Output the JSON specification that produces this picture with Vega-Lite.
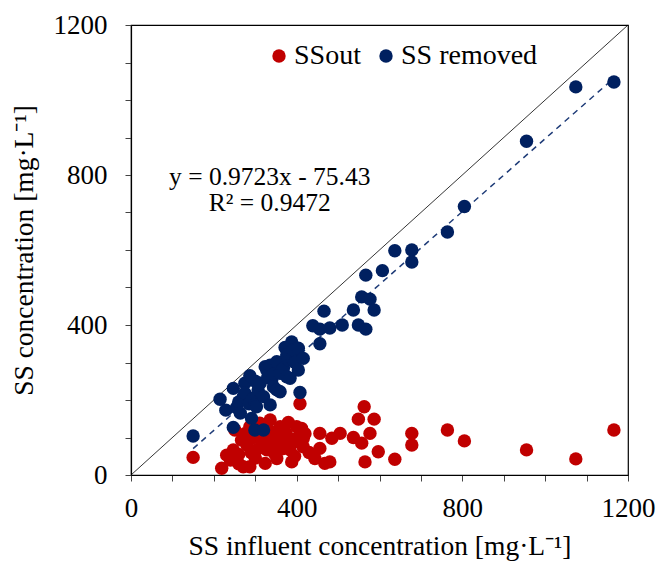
{
  "$schema": "https://vega.github.io/schema/vega-lite/v6.json",
  "width": 497,
  "height": 450,
  "autosize": {"type": "none"},
  "padding": {"left": 131, "top": 25, "right": 28, "bottom": 86},
  "background": "white",
  "config": {
    "font": "Liberation Serif",
    "view": {"stroke": "black", "strokeWidth": 1.2},
    "axis": {
      "grid": false,
      "domainColor": "black",
      "domainWidth": 1.2,
      "tickColor": "#444",
      "tickSize": 6,
      "labelFont": "Liberation Serif",
      "labelFontSize": 27,
      "labelColor": "black",
      "titleFont": "Liberation Serif",
      "titleFontSize": 27.5,
      "titleFontWeight": "normal",
      "titleColor": "black"
    }
  },
  "datasets": {
    "points": [
      {"series": "SSout", "influent": 150, "conc": 47},
      {"series": "SSout", "influent": 219, "conc": 18},
      {"series": "SSout", "influent": 231, "conc": 53},
      {"series": "SSout", "influent": 240, "conc": 40},
      {"series": "SSout", "influent": 247, "conc": 67},
      {"series": "SSout", "influent": 251, "conc": 120},
      {"series": "SSout", "influent": 260, "conc": 55},
      {"series": "SSout", "influent": 260, "conc": 30},
      {"series": "SSout", "influent": 267, "conc": 93},
      {"series": "SSout", "influent": 271, "conc": 22},
      {"series": "SSout", "influent": 275, "conc": 110},
      {"series": "SSout", "influent": 280, "conc": 80},
      {"series": "SSout", "influent": 287, "conc": 129},
      {"series": "SSout", "influent": 287, "conc": 22},
      {"series": "SSout", "influent": 290, "conc": 60},
      {"series": "SSout", "influent": 295, "conc": 100},
      {"series": "SSout", "influent": 300, "conc": 45},
      {"series": "SSout", "influent": 303, "conc": 67},
      {"series": "SSout", "influent": 310, "conc": 110},
      {"series": "SSout", "influent": 311, "conc": 138},
      {"series": "SSout", "influent": 315, "conc": 80},
      {"series": "SSout", "influent": 324, "conc": 31},
      {"series": "SSout", "influent": 328, "conc": 93},
      {"series": "SSout", "influent": 328, "conc": 67},
      {"series": "SSout", "influent": 328, "conc": 102},
      {"series": "SSout", "influent": 336, "conc": 147},
      {"series": "SSout", "influent": 340, "conc": 85},
      {"series": "SSout", "influent": 340, "conc": 115},
      {"series": "SSout", "influent": 345, "conc": 60},
      {"series": "SSout", "influent": 350, "conc": 85},
      {"series": "SSout", "influent": 352, "conc": 44},
      {"series": "SSout", "influent": 356, "conc": 116},
      {"series": "SSout", "influent": 360, "conc": 129},
      {"series": "SSout", "influent": 365, "conc": 70},
      {"series": "SSout", "influent": 368, "conc": 98},
      {"series": "SSout", "influent": 375, "conc": 110},
      {"series": "SSout", "influent": 380, "conc": 140},
      {"series": "SSout", "influent": 384, "conc": 67},
      {"series": "SSout", "influent": 388, "conc": 35},
      {"series": "SSout", "influent": 390, "conc": 85},
      {"series": "SSout", "influent": 395, "conc": 50},
      {"series": "SSout", "influent": 400, "conc": 129},
      {"series": "SSout", "influent": 400, "conc": 98},
      {"series": "SSout", "influent": 408, "conc": 190},
      {"series": "SSout", "influent": 412, "conc": 124},
      {"series": "SSout", "influent": 416, "conc": 75},
      {"series": "SSout", "influent": 416, "conc": 98},
      {"series": "SSout", "influent": 420, "conc": 110},
      {"series": "SSout", "influent": 430, "conc": 60},
      {"series": "SSout", "influent": 444, "conc": 44},
      {"series": "SSout", "influent": 456, "conc": 111},
      {"series": "SSout", "influent": 456, "conc": 71},
      {"series": "SSout", "influent": 468, "conc": 31},
      {"series": "SSout", "influent": 480, "conc": 35},
      {"series": "SSout", "influent": 485, "conc": 98},
      {"series": "SSout", "influent": 505, "conc": 111},
      {"series": "SSout", "influent": 537, "conc": 100},
      {"series": "SSout", "influent": 549, "conc": 149},
      {"series": "SSout", "influent": 557, "conc": 85},
      {"series": "SSout", "influent": 565, "conc": 35},
      {"series": "SSout", "influent": 563, "conc": 182},
      {"series": "SSout", "influent": 577, "conc": 111},
      {"series": "SSout", "influent": 587, "conc": 149},
      {"series": "SSout", "influent": 597, "conc": 62},
      {"series": "SSout", "influent": 637, "conc": 42},
      {"series": "SSout", "influent": 678, "conc": 80},
      {"series": "SSout", "influent": 678, "conc": 111},
      {"series": "SSout", "influent": 764, "conc": 120},
      {"series": "SSout", "influent": 805, "conc": 91},
      {"series": "SSout", "influent": 955, "conc": 67},
      {"series": "SSout", "influent": 1074, "conc": 43},
      {"series": "SSout", "influent": 1166, "conc": 120},

      {"series": "SS removed", "influent": 150, "conc": 104},
      {"series": "SS removed", "influent": 215, "conc": 202},
      {"series": "SS removed", "influent": 229, "conc": 173},
      {"series": "SS removed", "influent": 247, "conc": 231},
      {"series": "SS removed", "influent": 247, "conc": 127},
      {"series": "SS removed", "influent": 255, "conc": 180},
      {"series": "SS removed", "influent": 260, "conc": 195},
      {"series": "SS removed", "influent": 264, "conc": 165},
      {"series": "SS removed", "influent": 271, "conc": 209},
      {"series": "SS removed", "influent": 275, "conc": 245},
      {"series": "SS removed", "influent": 275, "conc": 218},
      {"series": "SS removed", "influent": 285, "conc": 190},
      {"series": "SS removed", "influent": 287, "conc": 265},
      {"series": "SS removed", "influent": 291, "conc": 151},
      {"series": "SS removed", "influent": 295, "conc": 205},
      {"series": "SS removed", "influent": 299, "conc": 187},
      {"series": "SS removed", "influent": 299, "conc": 120},
      {"series": "SS removed", "influent": 300, "conc": 250},
      {"series": "SS removed", "influent": 303, "conc": 182},
      {"series": "SS removed", "influent": 307, "conc": 227},
      {"series": "SS removed", "influent": 312, "conc": 245},
      {"series": "SS removed", "influent": 320, "conc": 120},
      {"series": "SS removed", "influent": 320, "conc": 209},
      {"series": "SS removed", "influent": 324, "conc": 289},
      {"series": "SS removed", "influent": 328, "conc": 280},
      {"series": "SS removed", "influent": 330, "conc": 260},
      {"series": "SS removed", "influent": 336, "conc": 293},
      {"series": "SS removed", "influent": 336, "conc": 187},
      {"series": "SS removed", "influent": 340, "conc": 255},
      {"series": "SS removed", "influent": 344, "conc": 235},
      {"series": "SS removed", "influent": 345, "conc": 270},
      {"series": "SS removed", "influent": 352, "conc": 302},
      {"series": "SS removed", "influent": 352, "conc": 227},
      {"series": "SS removed", "influent": 360, "conc": 271},
      {"series": "SS removed", "influent": 360, "conc": 222},
      {"series": "SS removed", "influent": 365, "conc": 300},
      {"series": "SS removed", "influent": 368, "conc": 285},
      {"series": "SS removed", "influent": 372, "conc": 340},
      {"series": "SS removed", "influent": 376, "conc": 320},
      {"series": "SS removed", "influent": 376, "conc": 262},
      {"series": "SS removed", "influent": 380, "conc": 307},
      {"series": "SS removed", "influent": 384, "conc": 258},
      {"series": "SS removed", "influent": 388, "conc": 355},
      {"series": "SS removed", "influent": 390, "conc": 310},
      {"series": "SS removed", "influent": 392, "conc": 333},
      {"series": "SS removed", "influent": 396, "conc": 300},
      {"series": "SS removed", "influent": 404, "conc": 338},
      {"series": "SS removed", "influent": 404, "conc": 280},
      {"series": "SS removed", "influent": 408, "conc": 220},
      {"series": "SS removed", "influent": 416, "conc": 311},
      {"series": "SS removed", "influent": 439, "conc": 398},
      {"series": "SS removed", "influent": 456, "conc": 389},
      {"series": "SS removed", "influent": 456, "conc": 350},
      {"series": "SS removed", "influent": 466, "conc": 437},
      {"series": "SS removed", "influent": 480, "conc": 392},
      {"series": "SS removed", "influent": 510, "conc": 400},
      {"series": "SS removed", "influent": 537, "conc": 440},
      {"series": "SS removed", "influent": 549, "conc": 400},
      {"series": "SS removed", "influent": 557, "conc": 475},
      {"series": "SS removed", "influent": 567, "conc": 533},
      {"series": "SS removed", "influent": 567, "conc": 389},
      {"series": "SS removed", "influent": 577, "conc": 469},
      {"series": "SS removed", "influent": 587, "conc": 440},
      {"series": "SS removed", "influent": 607, "conc": 545},
      {"series": "SS removed", "influent": 637, "conc": 598},
      {"series": "SS removed", "influent": 678, "conc": 600},
      {"series": "SS removed", "influent": 678, "conc": 568},
      {"series": "SS removed", "influent": 764, "conc": 648},
      {"series": "SS removed", "influent": 805, "conc": 716},
      {"series": "SS removed", "influent": 955, "conc": 890},
      {"series": "SS removed", "influent": 1074, "conc": 1035},
      {"series": "SS removed", "influent": 1166, "conc": 1048}
    ],
    "identity": [
      {"influent": 0, "conc": 0},
      {"influent": 1200, "conc": 1200}
    ],
    "fit": [
      {"influent": 150, "conc": 70.42},
      {"influent": 1170, "conc": 1062.16}
    ],
    "equation": [
      {"influent": 335, "conc": 795, "label": "y = 0.9723x - 75.43"},
      {"influent": 335, "conc": 725, "label": "R² = 0.9472"}
    ]
  },
  "encoding": {
    "x": {
      "field": "influent",
      "type": "quantitative",
      "scale": {"domain": [0, 1200], "nice": false, "zero": true},
      "axis": {
        "title": "SS influent concentration [mg·L⁻¹]",
        "values": [0, 100, 200, 300, 400, 500, 600, 700, 800, 900, 1000, 1100, 1200],
        "labelExpr": "datum.value % 400 === 0 ? format(datum.value, 'd') : ''",
        "labelPadding": 14,
        "titlePadding": 11,
        "labelFlush": false,
        "labelOverlap": false
      }
    },
    "y": {
      "field": "conc",
      "type": "quantitative",
      "scale": {"domain": [0, 1200], "nice": false},
      "axis": {
        "title": "SS concentration [mg·L⁻¹]",
        "values": [0, 100, 200, 300, 400, 500, 600, 700, 800, 900, 1000, 1100, 1200],
        "labelExpr": "datum.value % 400 === 0 ? format(datum.value, 'd') : ''",
        "labelPadding": 18,
        "titlePadding": 15,
        "labelFlush": false,
        "labelOverlap": false
      }
    }
  },
  "layer": [
    {
      "data": {"name": "identity"},
      "mark": {"type": "line", "color": "black", "strokeWidth": 0.8},
      "encoding": {}
    },
    {
      "data": {"name": "fit"},
      "mark": {"type": "line", "color": "#1F3C78", "strokeWidth": 1.5, "strokeDash": [6, 5]},
      "encoding": {}
    },
    {
      "data": {"name": "points"},
      "mark": {"type": "circle", "size": 180, "opacity": 1},
      "encoding": {
        "color": {
          "field": "series",
          "type": "nominal",
          "scale": {"domain": ["SSout", "SS removed"], "range": ["#C00000", "#002060"]},
          "legend": {
            "title": null,
            "orient": "none",
            "legendX": 134,
            "legendY": 17,
            "direction": "horizontal",
            "symbolType": "circle",
            "symbolSize": 180,
            "symbolOpacity": 1,
            "symbolStrokeWidth": 0,
            "labelFont": "Liberation Serif",
            "labelFontSize": 28,
            "labelColor": "black",
            "labelOffset": 1,
            "columnPadding": 11
          }
        },
        "order": {"field": "series", "sort": "descending"}
      }
    },
    {
      "data": {"name": "equation"},
      "mark": {"type": "text", "font": "Liberation Serif", "fontSize": 25.5, "color": "black", "align": "center", "baseline": "middle"},
      "encoding": {
        "text": {"field": "label"}
      }
    }
  ]
}
